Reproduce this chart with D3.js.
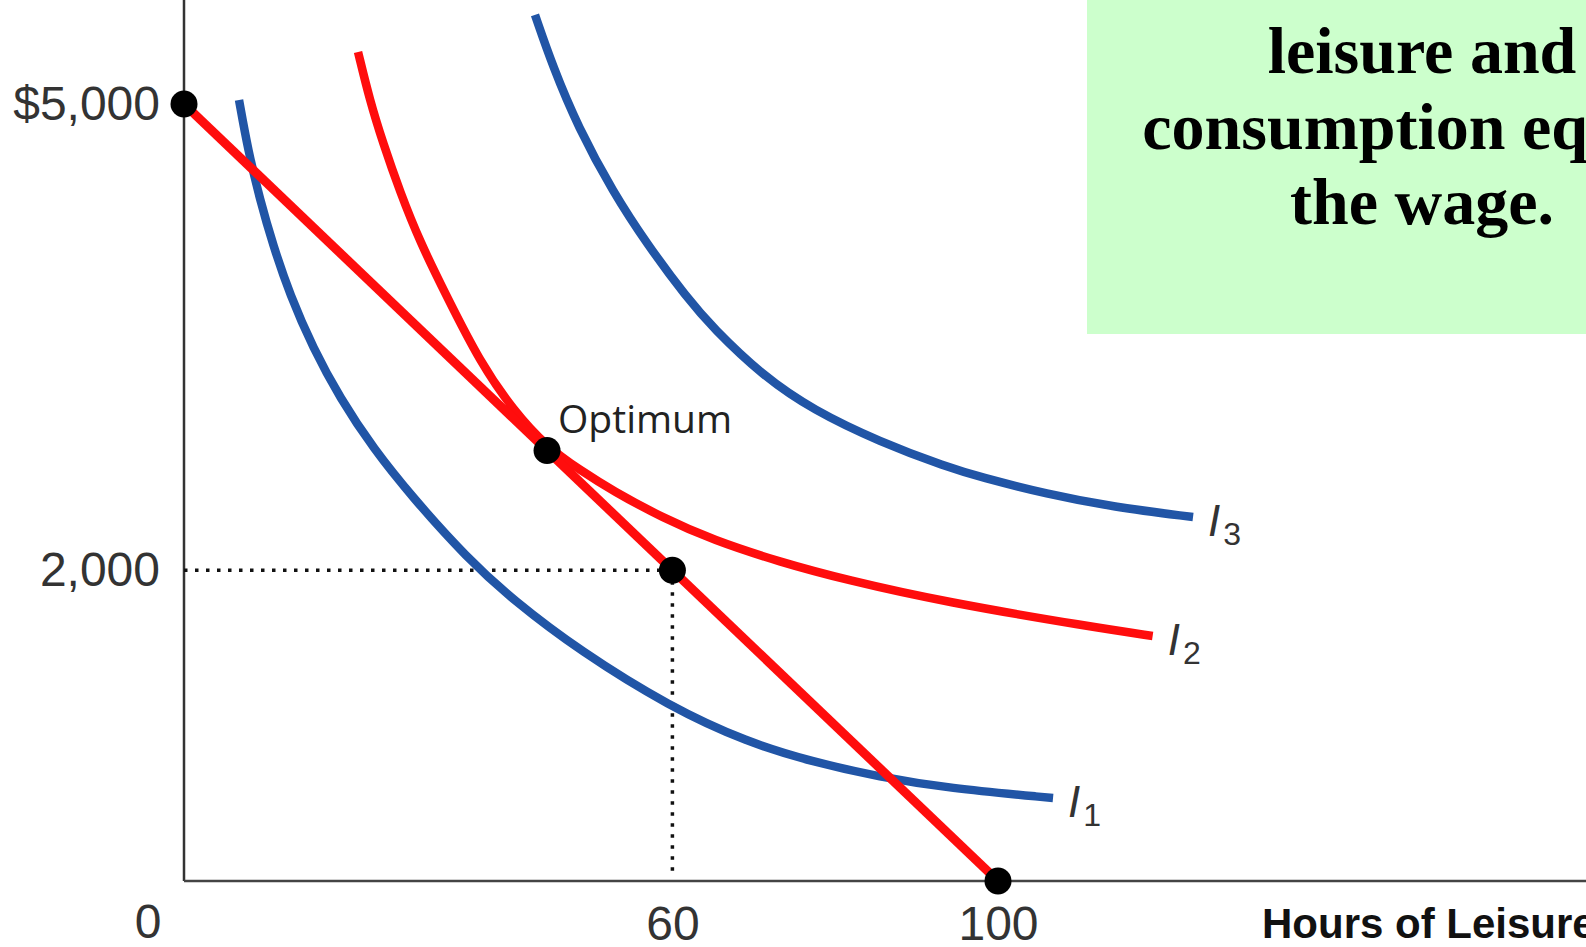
<!DOCTYPE html>
<html>
<head>
<meta charset="utf-8">
<script src="https://cdn.jsdelivr.net/npm/d3@7"></script>
<style>
  html, body { margin: 0; padding: 0; background: #fff; overflow: hidden; }
  svg { display: block; }
</style>
</head>
<body>
<svg id="chart"></svg>
<script>
// budget line: $5,000 at 0 hours of leisure, 0 at 100 hours
const budgetX = [0, 100]
const budgetY = [5000, 0]

// indifference curves
const i1X = [6.76, 7.86, 9.34, 10.93, 13.02, 15.85, 19.16, 23.22, 28.13, 34.77, 40.42, 48.65, 59.71, 69.16, 77.27, 85.5, 93.73, 106.76]
const i1Y = [5026, 4704, 4382, 4093, 3771, 3430, 3108, 2786, 2465, 2079, 1808, 1480, 1120, 894, 766, 669, 598, 534]

const i2X = [21.38, 22.85, 24.45, 26.54, 28.99, 32.31, 36.36, 40.42, 44.59, 48.65, 52.7, 58.85, 65.0, 73.2, 81.4, 93.5, 111.5, 119.0]
const i2Y = [5335, 5019, 4749, 4434, 4112, 3758, 3340, 3031, 2793, 2645, 2510, 2336, 2194, 2053, 1937, 1795, 1635, 1577]

const i3X = [43.12, 45.33, 48.4, 52.7, 56.88, 61.79, 64.99, 71.13, 77.27, 85.5, 93.73, 97.79, 106.02, 114.13, 123.96]
const i3Y = [5573, 5238, 4852, 4434, 4099, 3752, 3559, 3250, 3031, 2825, 2664, 2600, 2490, 2407, 2342]

const curveNames = ['1', '2', '3']
const curveColors = ['#2155a6', '#ff0d0d', '#2155a6']

const dotX = [0, 44.6, 60, 100]
const dotY = [5000, 2770, 2000, 0]

const yTicks = [5000, 2000]
const xTicks = [60, 100]

const boxLines = ['leisure and', 'consumption equals', 'the wage.']

const width = 1586,
      height = 947

const svg = d3.select('#chart')
    .attr('width', width)
    .attr('height', height)

const x = d3.scaleLinear().domain([0, 100]).range([184, 998])
const y = d3.scaleLinear().domain([0, 5000]).range([881, 104])

// green note box, partly off the page
svg.append('rect')
    .attr('x', 1087).attr('y', -10)
    .attr('width', 700).attr('height', 344)
    .attr('fill', '#ccffcc')

svg.append('g')
    .selectAll('text')
    .data(boxLines)
    .enter().append('text')
    .attr('x', 1422)
    .attr('y', (d, i) => 73 + i * 75.5)
    .attr('text-anchor', 'middle')
    .style('font-family', '"Liberation Serif", "DejaVu Serif", serif')
    .style('font-weight', 'bold')
    .style('font-size', '66px')
    .attr('fill', '#000')
    .text(d => d)

// axes lines
svg.append('line')
    .attr('x1', x(0)).attr('x2', x(0))
    .attr('y1', 0).attr('y2', y(0))
    .attr('stroke', '#333').attr('stroke-width', 2.5)

svg.append('line')
    .attr('x1', x(0)).attr('x2', width)
    .attr('y1', y(0)).attr('y2', y(0))
    .attr('stroke', '#444').attr('stroke-width', 2.5)

const yAxis = svg.append('g')
    .attr('transform', `translate(${x(0)},0)`)
    .call(d3.axisLeft(y).tickValues(yTicks).tickSize(0).tickPadding(24)
        .tickFormat(d => d === 5000 ? '$5,000' : d3.format(',')(d)))
yAxis.select('.domain').remove()

const xAxis = svg.append('g')
    .attr('transform', `translate(0,${y(0)})`)
    .call(d3.axisBottom(x).tickValues(xTicks).tickSize(0).tickPadding(25))
xAxis.select('.domain').remove()

svg.selectAll('.tick text')
    .style('font-family', '"Liberation Sans", Arial, sans-serif')
    .style('font-size', '48px')
    .attr('fill', '#333')

svg.append('text')
    .attr('x', 148).attr('y', 921)
    .attr('text-anchor', 'middle')
    .attr('dy', '0.35em')
    .style('font-family', '"Liberation Sans", Arial, sans-serif')
    .style('font-size', '48px')
    .attr('fill', '#333')
    .text('0')

svg.append('text')
    .attr('x', 1262).attr('y', 938)
    .style('font-family', '"Liberation Sans", Arial, sans-serif')
    .style('font-weight', 'bold')
    .style('font-size', '42px')
    .attr('fill', '#111')
    .text('Hours of Leisure')

// dotted guides to the chosen point
const guide = svg.append('g')
    .attr('stroke', '#111')
    .attr('stroke-width', 3.5)
    .attr('stroke-dasharray', '3.5 7.5')
guide.append('line')
    .attr('x1', x(0)).attr('x2', x(60))
    .attr('y1', y(2000)).attr('y2', y(2000))
guide.append('line')
    .attr('x1', x(60)).attr('x2', x(60))
    .attr('y1', y(2000)).attr('y2', y(0) - 6)

// indifference curves
const line = d3.line()
    .x(d => x(d[0]))
    .y(d => y(d[1]))
    .curve(d3.curveBasis)

const curves = [
    d3.zip(i1X, i1Y),
    d3.zip(i2X, i2Y),
    d3.zip(i3X, i3Y)
]

svg.append('g')
    .selectAll('path')
    .data(curves)
    .enter().append('path')
    .attr('d', line)
    .attr('fill', 'none')
    .attr('stroke', (d, i) => curveColors[i])
    .attr('stroke-width', 8.5)

// budget constraint
svg.append('path')
    .datum(d3.zip(budgetX, budgetY))
    .attr('d', d3.line().x(d => x(d[0])).y(d => y(d[1])))
    .attr('fill', 'none')
    .attr('stroke', '#ff0d0d')
    .attr('stroke-width', 9)

// curve labels I1, I2, I3
const labels = svg.append('g')
    .selectAll('text')
    .data(curves)
    .enter().append('text')
    .attr('x', d => x(d[d.length - 1][0]) + 15)
    .attr('y', d => y(d[d.length - 1][1]) + 19)
    .style('font-family', '"Liberation Sans", Arial, sans-serif')
    .attr('fill', '#333')
labels.append('tspan')
    .style('font-style', 'italic')
    .style('font-size', '44px')
    .text('I')
labels.append('tspan')
    .attr('dx', 3)
    .attr('dy', 9)
    .style('font-size', '32px')
    .text((d, i) => curveNames[i])

// points
svg.append('g')
    .selectAll('circle')
    .data(d3.zip(dotX, dotY))
    .enter().append('circle')
    .attr('cx', d => x(d[0]))
    .attr('cy', d => y(d[1]))
    .attr('r', 13.5)
    .attr('fill', '#000')

svg.append('text')
    .attr('x', x(44.6) + 11)
    .attr('y', y(2770) - 18)
    .style('font-family', '"Open Sans", "Noto Sans", sans-serif')
    .style('font-size', '39px')
    .attr('fill', '#222')
    .text('Optimum')
</script>
</body>
</html>
